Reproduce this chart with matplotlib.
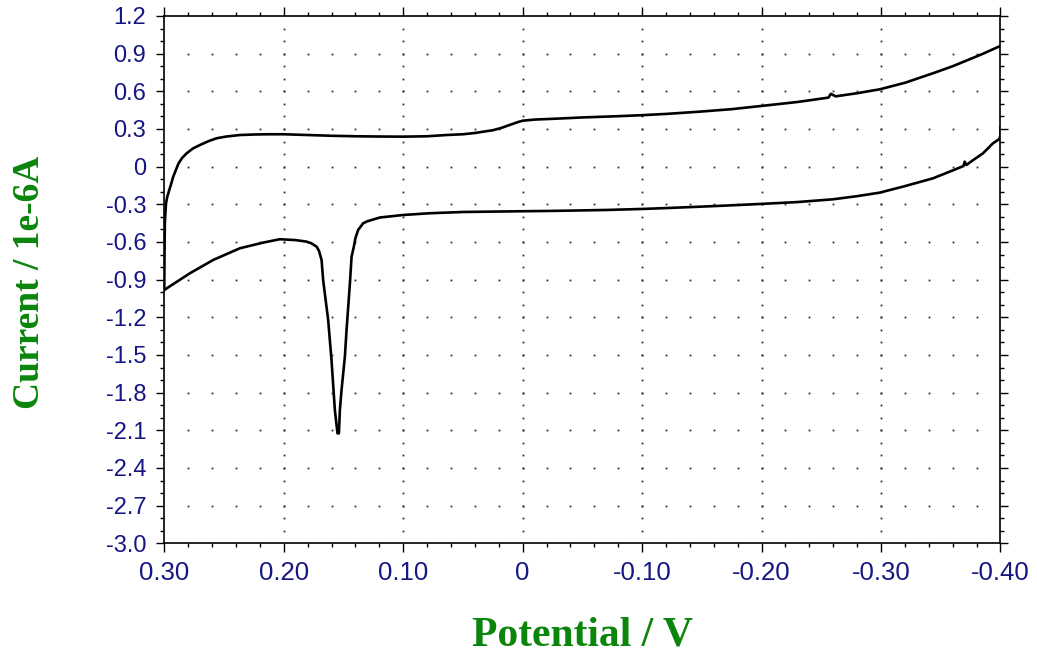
import numpy as np
import matplotlib
matplotlib.use('Agg')
import matplotlib.pyplot as plt
from matplotlib.ticker import FixedLocator, MultipleLocator

# forward sweep (upper trace), potential in V, current in 1e-6 A
x_up = [0.300, 0.2998, 0.2995, 0.2990, 0.2985, 0.2975, 0.2958, 0.2940, 0.2925, 0.2900,
        0.2880, 0.2850, 0.2813, 0.2760, 0.2700, 0.2630, 0.2562, 0.2480, 0.2367, 0.2250,
        0.2133, 0.2000, 0.1800, 0.1600, 0.1400, 0.1200, 0.1000, 0.0800, 0.0637, 0.0500,
        0.0400, 0.0320, 0.0250, 0.0180, 0.0100, 0.0040, 0.0000, -0.0100, -0.0300, -0.0500,
        -0.0800, -0.1000, -0.1200, -0.1482, -0.1750, -0.1993, -0.2300, -0.2560, -0.2580,
        -0.2620, -0.2800, -0.2989, -0.3200, -0.3435, -0.3600, -0.3715, -0.3850, -0.3974, -0.4000]
y_up = [-0.98, -0.70, -0.45, -0.36, -0.29, -0.24, -0.186, -0.13, -0.08, -0.02,
        0.027, 0.07, 0.106, 0.145, 0.173, 0.203, 0.226, 0.240, 0.252, 0.256,
        0.258, 0.258, 0.252, 0.246, 0.242, 0.240, 0.239, 0.242, 0.252, 0.258,
        0.268, 0.280, 0.290, 0.308, 0.335, 0.355, 0.366, 0.375, 0.383, 0.392,
        0.402, 0.410, 0.420, 0.438, 0.458, 0.483, 0.515, 0.550, 0.580,
        0.560, 0.585, 0.616, 0.668, 0.744, 0.800, 0.845, 0.898, 0.951, 0.960]

# reverse sweep (lower trace) with the reduction peak near 0.155 V
x_lo = [-0.4000, -0.4000, -0.3990, -0.3937, -0.3853, -0.3760, -0.3715, -0.3700, -0.3690,
        -0.3600, -0.3435, -0.3200, -0.2989, -0.2800, -0.2598, -0.2300, -0.1993, -0.1700,
        -0.1482, -0.1200, -0.1000, -0.0700, -0.0400, -0.0200, 0.0000, 0.0250, 0.0498,
        0.0777, 0.1000, 0.1195, 0.1300, 0.1335, 0.1377, 0.1400, 0.1413, 0.1432, 0.1446,
        0.1474, 0.1488, 0.1516, 0.1530, 0.1538, 0.1550, 0.1572, 0.1600, 0.1628, 0.1670,
        0.1683, 0.1705, 0.1725, 0.1770, 0.1810, 0.1900, 0.2032, 0.2172, 0.2367, 0.2590,
        0.2785, 0.3000]
y_lo = [0.31, 0.25, 0.22, 0.186, 0.106, 0.045, 0.013, 0.040, 0.005,
        -0.030, -0.093, -0.155, -0.207, -0.235, -0.260, -0.282, -0.297, -0.310,
        -0.319, -0.330, -0.337, -0.345, -0.350, -0.353, -0.355, -0.358, -0.361,
        -0.371, -0.385, -0.405, -0.435, -0.451, -0.504, -0.570, -0.637, -0.717, -0.929,
        -1.300, -1.513, -1.779, -1.938, -2.124, -2.124, -1.938, -1.540, -1.221, -0.903,
        -0.744, -0.670, -0.637, -0.610, -0.597, -0.585, -0.578, -0.605, -0.650, -0.743,
        -0.849, -0.982]

x_ticks = [0.30, 0.20, 0.10, 0.0, -0.10, -0.20, -0.30, -0.40]
x_labels = ['0.30', '0.20', '0.10', '0', '-0.10', '-0.20', '-0.30', '-0.40']
y_ticks = [1.2, 0.9, 0.6, 0.3, 0.0, -0.3, -0.6, -0.9, -1.2, -1.5, -1.8, -2.1, -2.4, -2.7, -3.0]
y_labels = ['1.2', '0.9', '0.6', '0.3', '0', '-0.3', '-0.6', '-0.9', '-1.2', '-1.5',
            '-1.8', '-2.1', '-2.4', '-2.7', '-3.0']

tick_color = '#161684'
label_color = '#0b850b'

fig = plt.figure(figsize=(10.37, 6.53), dpi=100)
ax = fig.add_axes([0.1584, 0.168, 0.8064, 0.8075])

# dotted grid: dots at minor steps along each major line
minor_x = np.arange(-0.40, 0.3001, 0.02)
minor_y = np.arange(-3.0, 1.2001, 0.1)
for yv in y_ticks[1:-1]:
    ax.plot(minor_x[1:-1], np.full(len(minor_x) - 2, yv), ls='none', marker='s',
            ms=1.3, mew=0, color='#333333', zorder=1)
for xv in x_ticks[1:-1]:
    ax.plot(np.full(len(minor_y) - 2, xv), minor_y[1:-1], ls='none', marker='s',
            ms=1.3, mew=0, color='#333333', zorder=1)

ax.plot(x_up, y_up, color='black', lw=1.9, zorder=3)
ax.plot(x_lo, y_lo, color='black', lw=1.9, zorder=3)

ax.set_xlim(0.30, -0.40)
ax.set_ylim(-3.0, 1.2)

ax.xaxis.set_major_locator(FixedLocator(x_ticks))
ax.set_xticklabels(x_labels)
ax.xaxis.set_minor_locator(MultipleLocator(0.02))
ax.yaxis.set_major_locator(FixedLocator(y_ticks))
ax.set_yticklabels(y_labels)
ax.yaxis.set_minor_locator(MultipleLocator(0.1))

ax.tick_params(which='both', direction='out', top=True, right=True, color='black', width=1.0)
ax.tick_params(axis='x', which='major', length=6.5, pad=6, labelsize=18.5, labelcolor=tick_color)
ax.tick_params(axis='y', which='major', length=5.5, pad=7.5, labelsize=17, labelcolor=tick_color)
ax.tick_params(which='minor', length=2.6)
for lab in ax.get_xticklabels() + ax.get_yticklabels():
    lab.set_family('Liberation Sans')

for sp in ax.spines.values():
    sp.set_linewidth(1.2)
    sp.set_color('black')

fig.text(0.028, 0.567, 'Current / 1e-6A', rotation=90, ha='center', va='center',
         family='Liberation Serif', weight='bold', fontsize=27, color=label_color)
fig.text(0.562, 0.027, 'Potential / V', ha='center', va='center',
         family='Liberation Serif', weight='bold', fontsize=30, color=label_color)

fig.savefig('out.png', dpi=100)
